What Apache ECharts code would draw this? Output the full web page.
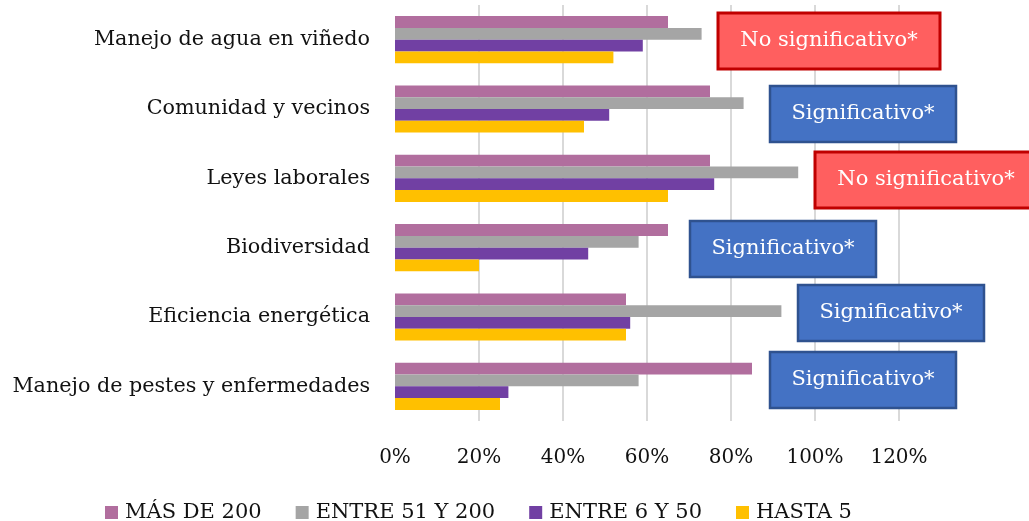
<!DOCTYPE html>
<html>
<head>
<meta charset="utf-8">
<script src="https://cdn.jsdelivr.net/npm/echarts@6/dist/echarts.min.js"></script>
<style>
    html, body { margin: 0; padding: 0; background: #fff; }
    #chart { width: 1029px; height: 521px; }
</style>
</head>
<body>
<div id="chart"></div>
<script>
    // categorias (de arriba hacia abajo)
    var categorias = ['Manejo de agua en viñedo', 'Comunidad y vecinos', 'Leyes laborales',
        'Biodiversidad', 'Eficiencia energética', 'Manejo de pestes y enfermedades'];
    var nombresSeries = ['MÁS DE 200', 'ENTRE 51 Y 200', 'ENTRE 6 Y 50', 'HASTA 5'];
    // valores en %
    var masDe200 = [65, 75, 75, 65, 55, 85];
    var entre51y200 = [73, 83, 96, 58, 92, 58];
    var entre6y50 = [59, 51, 76, 46, 56, 27];
    var hasta5 = [52, 45, 65, 20, 55, 25];
    var ticksX = [0, 20, 40, 60, 80, 100, 120];
    // textos de las cajas
    var notas = ['No significativo*', 'Significativo*', 'No significativo*',
        'Significativo*', 'Significativo*', 'Significativo*'];

    var colores = ['#B16E9E', '#A5A5A5', '#7140A3', '#FFC000'];
    var fuente = 'DejaVu Serif';

    // cajas de texto (formas libres)
    function caja(texto, x, y, w, rojo) {
        return {
            type: 'group',
            x: x,
            y: y,
            z: 100,
            children: [{
                type: 'rect',
                z: 100,
                shape: { x: 0, y: 0, width: w, height: 56 },
                style: {
                    fill: rojo ? '#FF5F5F' : '#4472C4',
                    stroke: rojo ? '#C00000' : '#2F528F',
                    lineWidth: rojo ? 3 : 2.5
                }
            }, {
                type: 'text',
                z: 101,
                x: w / 2,
                y: 28,
                style: {
                    text: texto,
                    fill: '#fff',
                    font: '21px "' + fuente + '"',
                    align: 'center',
                    verticalAlign: 'middle'
                }
            }]
        };
    }

    var chart = echarts.init(document.getElementById('chart'));
    var datos = [masDe200, entre51y200, entre6y50, hasta5];
    var option = {
        backgroundColor: '#fff',
        animation: false,
        textStyle: { fontFamily: fuente },
        grid: { left: 395, right: 130, top: 5, bottom: 100 },
        legend: {
            data: nombresSeries,
            left: 100,
            top: 497,
            icon: 'rect',
            itemWidth: 13,
            itemHeight: 13,
            itemGap: 34,
            textStyle: { fontFamily: fuente, fontSize: 21, color: '#111', padding: [0, 0, 0, 2] }
        },
        xAxis: {
            type: 'value',
            min: ticksX[0],
            max: ticksX[ticksX.length - 1],
            interval: 20,
            axisLine: { show: false },
            axisTick: { show: false },
            axisLabel: { formatter: '{value}%', fontSize: 20, color: '#111', margin: 27, fontFamily: fuente },
            splitLine: {
                lineStyle: {
                    color: ['rgba(0,0,0,0)', '#D9D9D9', '#D9D9D9', '#D9D9D9', '#D9D9D9', '#D9D9D9', '#D9D9D9'],
                    width: 2
                }
            }
        },
        yAxis: {
            type: 'category',
            inverse: true,
            data: categorias,
            axisLine: { show: false },
            axisTick: { show: false },
            axisLabel: { fontSize: 20.7, color: '#111', margin: 25, fontFamily: fuente }
        },
        series: nombresSeries.map(function (n, i) {
            return {
                name: n,
                type: 'bar',
                data: datos[i],
                barGap: '0%',
                barCategoryGap: '32%',
                itemStyle: { color: colores[i] }
            };
        }),
        graphic: [
            caja(notas[0], 718, 13, 222, true),
            caja(notas[1], 770, 86, 186, false),
            caja(notas[2], 815, 152, 222, true),
            caja(notas[3], 690, 221, 186, false),
            caja(notas[4], 798, 285, 186, false),
            caja(notas[5], 770, 352, 186, false)
        ]
    };
    chart.setOption(option);
</script>
</body>
</html>
